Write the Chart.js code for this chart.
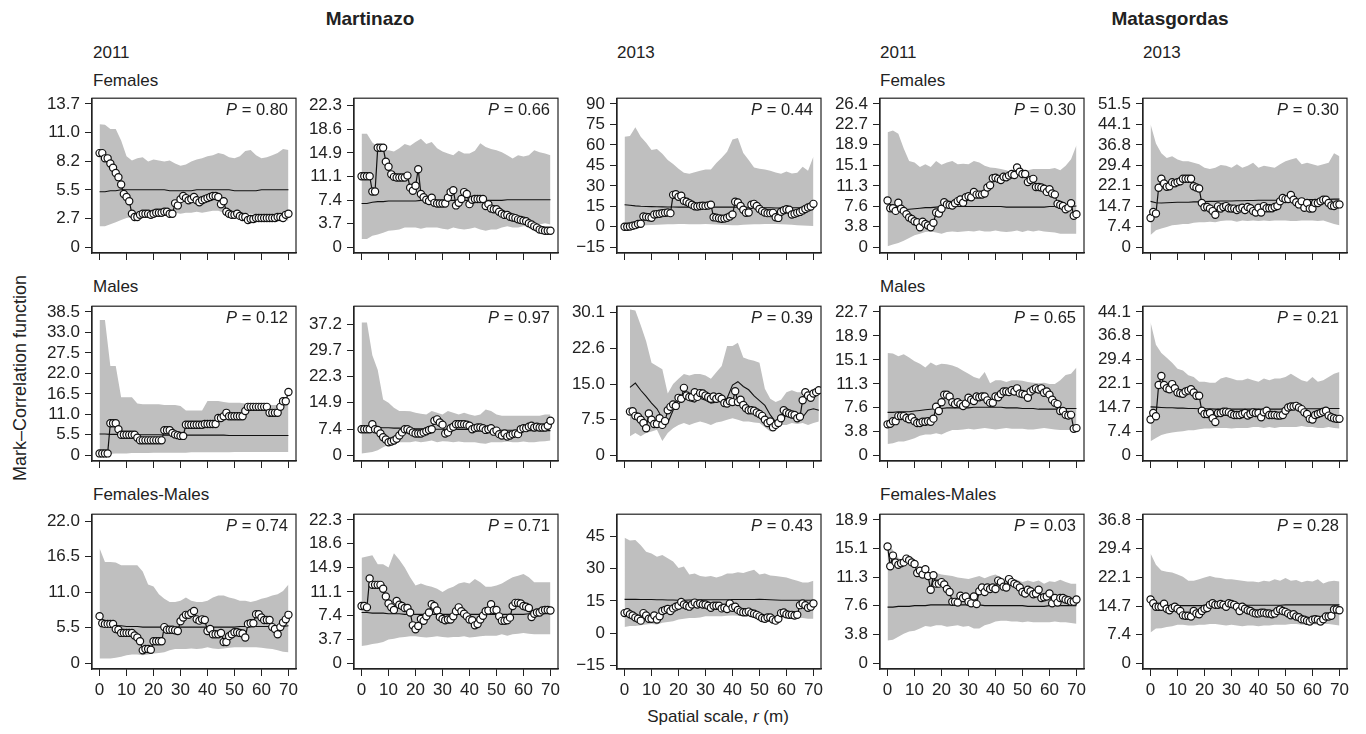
<!DOCTYPE html>
<html><head><meta charset="utf-8">
<script src="https://cdn.jsdelivr.net/npm/chart.js@4/dist/chart.umd.min.js"></script>
<style>
html,body{margin:0;padding:0;background:#fff;}
#fig{position:relative;width:1366px;height:734px;overflow:hidden;font-family:"Liberation Sans",Arial,Helvetica,sans-serif;color:#222;}
.t{position:absolute;white-space:nowrap;line-height:1;}
canvas{position:absolute;}
#warn{position:absolute;left:0;top:0;color:red;font-size:12px;}
</style></head><body>
<div id="fig">
  <div class="t" style="left:370px;top:9px;font-size:19px;font-weight:bold;transform:translateX(-50%);">Martinazo</div>
  <div class="t" style="left:1170px;top:9px;font-size:19px;font-weight:bold;transform:translateX(-50%);">Matasgordas</div>
  <div class="t" style="left:93px;top:44px;font-size:17px;">2011</div>
  <div class="t" style="left:617px;top:44px;font-size:17px;">2013</div>
  <div class="t" style="left:880px;top:44px;font-size:17px;">2011</div>
  <div class="t" style="left:1143px;top:44px;font-size:17px;">2013</div>
  <div class="t" style="left:93px;top:72px;font-size:17px;">Females</div>
  <div class="t" style="left:880px;top:72px;font-size:17px;">Females</div>
  <div class="t" style="left:93px;top:278px;font-size:17px;">Males</div>
  <div class="t" style="left:880px;top:278px;font-size:17px;">Males</div>
  <div class="t" style="left:93px;top:486px;font-size:17px;">Females-Males</div>
  <div class="t" style="left:880px;top:486px;font-size:17px;">Females-Males</div>
  <div class="t" style="left:20px;top:378px;font-size:18px;transform:translate(-50%,-50%) rotate(-90deg);">Mark–Correlation function</div>
  <div class="t" style="left:718px;top:708px;font-size:17px;transform:translateX(-50%);">Spatial scale, <i>r</i> (m)</div>
  <div id="warn"></div>
</div>
<script>
// ---------- grids ----------
const rObs = [0,1,2,3,4,5,6,7,8,9,10,11,12,13,14,15,16,17,18,19,20,21,22,23,24,25,26,27,28,29,30,31,32,33,34,35,36,37,38,39,40,41,42,43,44,45,46,47,48,49,50,51,52,53,54,55,56,57,58,59,60,61,62,63,64,65,66,67,68,69,70];
const rEnv = [0,2,4,6,8,10,12,14,16,18,20,22,24,26,28,30,32,34,36,38,40,42,44,46,48,50,52,54,56,58,60,62,64,66,68,70];
const rObsShift = [2,3,4,5,6,7,8,9,10,11,12,13,14,15,16,17,18,19,20,21,22,23,24,25,26,27,28,29,30,31,32,33,34,35,36,37,38,39,40,41,42,43,44,45,46,47,48,49,50,51,52,53,54,55,56,57,58,59,60,61,62,63,64,65,66,67,68,69,70,71,72];
const rEnvShift = [2,4,6,8,10,12,14,16,18,20,22,24,26,28,30,32,34,36,38,40,42,44,46,48,50,52,54,56,58,60,62,64,66,68,70,72];
const xTickValues = [0,10,20,30,40,50,60,70];
const xTickLabels = ['0','10','20','30','40','50','60','70'];
const pValues = ['0.80','0.66','0.44','0.30','0.30','0.12','0.97','0.39','0.65','0.21','0.74','0.71','0.43','0.03','0.28'];

// ---------- Row 1: Females ----------
const p1Obs = [9.0,9.0,8.5,8.5,8.0,7.6,7.1,6.7,6.0,5.1, 4.8,4.4,3.2,2.9,2.9,3.1,3.2,3.2,3.2,3.1, 3.2,3.3,3.3,3.3,3.4,3.4,3.2,3.2,4.2,4.0, 4.6,4.9,4.7,4.5,4.6,4.8,4.5,4.3,4.5,4.6, 4.7,4.8,4.9,4.9,4.8,4.1,4.4,3.4,3.2,3.1, 3.1,3.2,3.0,2.9,2.9,2.6,2.7,2.7,2.8,2.8, 2.8,2.8,2.8,2.8,2.8,2.8,2.9,2.9,2.8,3.1,3.2];
const p1Mean = [5.3,5.3,5.4,5.4,5.5,5.5,5.5,5.5,5.5,5.5, 5.5,5.5,5.5,5.4,5.4,5.4,5.4,5.4,5.5,5.5, 5.5,5.5,5.5,5.5,5.5,5.4,5.4,5.4,5.4,5.4, 5.5,5.5,5.5,5.5,5.5,5.5];
const p1Hi = [11.75,11.7,11.3,11.3,10.2,8.7,8.3,8.5,8.6,8.2, 8.4,8.3,8.2,8.3,8.0,7.8,7.9,8.2,8.4,8.5, 8.7,8.8,9.0,8.9,8.6,8.5,8.7,9.2,9.3,8.8, 8.5,8.6,8.8,9.0,9.4,9.3];
const p1Lo = [2.0,2.0,2.2,2.4,2.6,2.8,2.9,3.0,3.1,3.1, 3.1,3.2,3.2,3.2,3.3,3.2,3.3,3.3,3.4,3.3, 3.4,3.5,3.5,3.3,3.2,3.2,3.1,3.2,3.2,3.1, 3.2,3.1,3.0,3.0,2.8,2.5];
const p1Ticks = [0,2.74,5.48,8.22,10.96,13.7];
const p1Labels = ['0','2.7','5.5','8.2','11.0','13.7'];

const p2Obs = [11.2,11.2,11.2,11.2,8.8,8.8,15.7,15.7,15.7,13.5, 12.7,11.5,11.1,11.0,11.0,11.0,11.0,11.3,9.4,8.9, 9.7,12.3,8.4,7.9,7.5,7.3,7.8,7.0,6.9,6.9, 6.9,6.9,7.8,8.7,9.0,6.6,7.0,7.6,8.7,8.4, 6.8,7.5,7.6,7.6,7.6,7.6,6.5,6.8,6.1,6.0, 6.0,5.6,5.3,5.1,5.1,4.8,4.7,4.6,4.4,4.3, 4.2,4.1,3.8,3.6,3.3,3.1,2.8,2.7,2.6,2.6,2.6];
const p2Mean = [6.9,6.9,7.1,7.2,7.2,7.3,7.3,7.3,7.3,7.3, 7.3,7.4,7.4,7.3,7.3,7.4,7.4,7.4,7.4,7.4, 7.4,7.4,7.4,7.4,7.4,7.4,7.4,7.5,7.5,7.5, 7.5,7.5,7.5,7.5,7.5,7.5];
const p2Hi = [17.9,17.9,16.5,15.8,15.2,15.3,15.1,15.6,16.3,16.0, 16.6,17.1,16.3,16.6,15.6,15.1,14.8,14.5,15.2,14.8, 14.8,15.2,16.4,15.8,15.5,15.3,15.0,14.5,14.0,14.5, 14.3,14.5,15.3,15.0,14.8,14.5];
const p2Lo = [1.3,1.3,1.8,2.0,2.3,2.6,2.7,2.8,3.1,3.1, 3.1,2.9,3.1,3.1,3.1,2.9,2.8,3.1,2.9,2.8, 2.9,3.1,2.8,2.6,2.8,2.8,3.1,3.3,3.1,3.1, 3.3,3.3,3.6,3.6,3.8,3.6];
const p2Ticks = [0,3.72,7.44,11.16,14.88,18.6,22.32];
const p2Labels = ['0','3.7','7.4','11.1','14.9','18.6','22.3'];

const p3Obs = [0,0,0.2,0.8,1.2,2.0,2.2,7.5,7.3,7.0, 6.6,9.0,9.3,9.6,10.0,10.2,10.5,10.0,23.4,23.9, 22.0,22.8,19.0,18.4,17.3,16.1,15.0,14.9,15.2,15.4, 15.3,15.6,16.2,7.0,6.7,6.2,5.9,6.0,6.6,7.6, 9.0,18.4,17.8,15.2,12.5,10.2,10.5,16.2,16.8,15.2, 13.0,11.5,10.5,10.0,10.0,10.2,7.0,6.5,11.0,12.1, 12.8,12.5,9.0,9.5,10.2,10.9,12.0,13.0,14.2,14.9,16.8];
const p3Mean = [16.1,15.8,15.3,15.0,14.9,14.8,14.7,14.6,14.5,14.5, 14.4,14.4,14.4,14.4,14.4,14.4,14.4,14.4,14.4,14.4, 14.4,14.3,14.3,14.3,14.2,14.2,14.0,13.9,13.8,13.8, 13.8,13.9,14.0,14.1,14.3,14.5];
const p3Hi = [66.0,66.5,73.0,66.0,61.5,56.3,57.0,53.5,49.0,46.0, 42.5,39.5,38.8,40.0,41.0,42.0,42.0,46.8,50.5,55.0, 64.0,65.0,54.0,49.0,43.5,42.5,42.0,41.0,39.7,38.8, 40.5,39.0,39.5,44.0,41.0,51.5];
const p3Lo = [0.5,0.8,1.0,1.2,1.2,1.3,1.5,1.6,1.8,1.9, 2.0,2.0,1.9,1.8,1.9,2.0,1.8,1.6,1.5,1.3, 1.2,1.2,1.5,1.7,1.8,1.9,2.0,2.0,2.0,1.8, 1.7,1.5,1.2,1.0,0.8,0.6];
const p3Ticks = [-15,0,15,30,45,60,75,90];
const p3Labels = ['\u221215','0','15','30','45','60','75','90'];

const p4Obs = [8.6,7.2,7.2,6.7,8.2,7.1,6.7,6.1,5.5,5.2, 4.8,4.6,3.7,4.7,4.3,4.0,3.7,4.5,6.4,6.2, 7.1,8.3,7.9,7.8,7.7,8.1,8.5,8.8,8.2,9.2, 9.4,9.2,10.2,9.7,9.7,9.7,9.9,11.0,11.4,12.7, 12.8,12.6,12.4,13.0,12.9,13.2,13.5,13.3,14.7,13.9, 13.5,13.5,12.0,12.4,12.6,11.1,11.1,11.0,10.8,10.2, 10.7,9.9,9.7,8.0,7.8,7.6,7.0,7.3,8.1,5.8,6.1];
const p4Mean = [6.8,6.8,6.9,6.9,7.0,7.1,7.2,7.3,7.3,7.4, 7.5,7.5,7.5,7.5,7.5,7.5,7.5,7.5,7.5,7.5, 7.5,7.5,7.4,7.4,7.4,7.4,7.4,7.4,7.4,7.4, 7.5,7.5,7.5,7.5,7.5,7.6];
const p4Hi = [21.2,21.5,20.9,18.2,15.9,15.6,14.8,15.3,14.8,15.9, 15.2,15.6,15.9,15.3,15.4,15.3,15.9,15.6,15.0,14.7, 14.6,14.4,14.2,13.8,14.2,14.1,14.2,14.4,14.4,14.4, 14.4,14.6,14.2,15.0,16.2,18.8];
const p4Lo = [0.2,0.5,0.8,1.2,1.7,2.2,2.5,2.8,2.9,2.7, 2.5,2.8,2.9,2.8,2.9,3.0,2.9,3.1,2.9,2.9, 3.1,2.9,2.8,2.9,3.1,2.8,3.1,2.9,3.1,2.9, 2.8,2.7,2.5,2.5,2.5,2.5];
const p4Ticks = [0,3.8,7.6,11.3,15.1,18.9,22.7,26.4];
const p4Labels = ['0','3.8','7.6','11.3','15.1','18.9','22.7','26.4'];

const p5Obs = [10.5,12.7,12.1,21.4,24.6,22.9,21.7,21.9,23.4,23.0, 23.4,23.7,24.6,24.6,24.6,24.6,21.9,21.5,21.1,15.9, 14.4,14.5,13.9,13.0,11.7,14.7,13.9,14.5,14.8,14.0, 13.9,13.9,13.4,13.9,14.2,13.4,14.5,14.0,13.0,12.5, 14.2,12.5,14.8,14.0,14.0,14.0,14.5,14.8,16.5,17.7, 17.3,17.3,18.8,17.1,16.2,15.4,16.5,14.2,15.9,13.9, 13.9,15.9,15.9,16.5,17.1,17.1,15.9,15.0,14.8,15.4,15.4];
const p5Mean = [16.5,16.0,15.9,16.0,16.1,16.2,16.2,16.2,16.3,16.3, 16.4,16.5,16.5,16.6,16.6,16.6,16.7,16.7,16.8,16.8, 16.9,16.9,16.9,16.9,16.9,17.0,17.0,17.0,17.0,17.1, 17.1,17.1,17.2,17.2,17.3,17.3];
const p5Hi = [44.2,37.3,33.8,32.1,32.7,31.5,30.9,30.9,30.4,29.8, 28.6,28.1,28.6,29.6,29.3,28.6,29.8,28.6,29.3,30.4, 28.6,29.3,28.9,28.6,29.8,30.9,31.5,32.1,29.8,30.4, 29.8,29.3,29.8,30.4,33.8,32.7];
const p5Lo = [4.4,6.1,6.7,7.3,7.9,8.1,8.4,8.4,8.8,9.0, 9.0,9.2,9.0,9.4,9.6,9.6,9.2,9.6,9.4,9.6, 9.4,9.6,9.4,9.6,9.6,9.6,9.4,9.4,9.6,9.6, 9.6,9.4,9.6,9.0,8.4,7.9];
const p5Ticks = [0,7.4,14.7,22.1,29.4,36.8,44.1,51.5];
const p5Labels = ['0','7.4','14.7','22.1','29.4','36.8','44.1','51.5'];

// ---------- Row 2: Males ----------
const p6Obs = [0.5,0.5,0.5,0.5,8.6,8.6,8.6,7.0,5.5,5.5, 5.5,5.5,5.5,5.5,4.7,4.0,4.0,4.0,4.0,4.0, 4.0,4.0,4.0,4.0,6.7,6.7,6.7,6.0,5.6,5.4, 5.2,5.2,8.2,8.2,8.2,8.2,8.2,8.2,8.2,8.4, 8.4,8.4,8.4,8.4,10.0,10.0,10.5,11.4,10.5,10.5, 10.5,10.5,10.5,10.5,11.9,13.0,13.0,13.0,13.0,13.0, 13.0,13.0,13.0,11.4,11.4,11.4,11.4,13.0,14.5,14.5,17.0];
const p6Mean = [5.7,5.7,5.6,5.6,5.6,5.6,5.5,5.5,5.5,5.5, 5.5,5.5,5.4,5.4,5.4,5.4,5.4,5.4,5.4,5.4, 5.4,5.4,5.4,5.4,5.3,5.3,5.3,5.3,5.3,5.3, 5.3,5.3,5.3,5.3,5.3,5.3];
const p6Hi = [36.3,36.3,24.0,24.0,15.6,15.6,15.6,13.9,13.7,13.7, 13.7,13.7,13.5,13.5,13.5,13.2,12.0,12.0,12.0,12.0, 14.6,14.6,14.6,14.3,14.1,14.1,14.1,13.9,13.7,13.7, 13.7,13.5,13.5,13.5,13.7,13.7];
const p6Lo = [0.4,0.4,0.4,0.5,0.5,0.5,0.6,0.6,0.6,0.6, 0.7,0.7,0.7,0.7,0.7,0.7,0.7,0.8,0.8,0.8, 0.8,0.8,0.8,0.8,0.8,0.9,0.9,0.9,0.9,0.9, 0.9,0.9,0.9,0.9,0.9,0.9];
const p6Ticks = [0,5.5,11.0,16.5,22.0,27.5,33.0,38.5];
const p6Labels = ['0','5.5','11.0','16.5','22.0','27.5','33.0','38.5'];

const p7Obs = [7.4,7.4,7.4,7.4,8.8,7.4,7.2,6.2,5.1,4.5, 3.7,3.9,4.2,4.7,5.6,6.5,7.4,7.4,7.0,6.5, 6.2,6.2,6.2,6.5,6.8,7.2,7.4,9.8,10.2,9.3, 8.7,6.2,6.5,7.7,8.1,8.8,8.8,8.8,8.8,8.7, 8.4,7.4,7.7,7.9,7.9,7.7,7.2,7.4,7.7,6.7, 7.0,6.0,5.6,6.2,5.3,5.6,6.0,6.2,6.0,7.4, 7.7,7.7,8.1,8.4,7.9,8.1,7.9,7.9,7.9,8.4,9.8];
const p7Mean = [8.0,8.0,7.9,7.9,7.8,7.8,7.7,7.7,7.6,7.6, 7.5,7.5,7.5,7.4,7.4,7.4,7.4,7.4,7.3,7.3, 7.3,7.3,7.2,7.2,7.2,7.2,7.1,7.1,7.1,7.1, 7.1,7.0,7.0,7.0,7.0,7.0];
const p7Hi = [37.7,37.7,28.4,24.2,15.8,14.9,13.5,12.6,12.6,12.5, 12.1,11.8,11.6,12.6,12.1,11.6,12.6,12.1,11.6,12.1, 11.6,11.2,11.6,13.0,12.6,11.6,11.2,11.2,11.2,11.2, 11.2,11.2,11.2,11.2,11.6,11.6];
const p7Lo = [0.5,0.7,0.9,1.4,2.3,3.0,3.3,3.7,3.7,3.7, 4.0,3.7,3.9,4.2,3.7,4.0,3.9,3.7,3.9,3.7, 3.7,3.7,3.4,3.3,3.7,3.7,3.7,3.9,3.7,3.7, 3.9,3.7,3.7,3.9,4.0,4.2];
const p7Ticks = [0,7.4,14.9,22.3,29.7,37.2];
const p7Labels = ['0','7.4','14.9','22.3','29.7','37.2'];

const p8Obs = [9.2,9.3,8.3,8.1,7.5,6.8,5.7,8.8,7.5,6.6, 6.6,7.8,6.4,7.2,9.5,10.2,10.7,10.4,12.1,11.9, 14.2,12.6,12.3,12.3,13.3,12.3,13.1,13.0,12.6,12.3, 11.9,12.4,11.9,12.3,11.9,11.0,10.9,11.4,11.2,13.5, 11.2,11.7,10.6,9.9,9.5,9.5,9.4,9.0,8.7,8.3, 7.5,6.8,7.1,5.9,6.4,6.8,7.8,9.5,9.0,8.8, 8.6,8.5,7.8,8.1,11.6,13.3,12.6,12.1,13.0,13.3,13.7];
const p8Mean = [14.3,15.2,13.7,12.4,11.0,9.8,7.8,6.8,9.5,10.8, 12.0,11.5,11.2,12.0,11.6,11.0,11.2,11.5,12.0,14.8, 15.5,14.5,13.8,12.5,11.5,10.5,8.5,7.0,7.0,8.5, 9.0,8.8,8.0,9.5,9.8,9.5];
const p8Hi = [30.7,30.5,27.4,24.0,19.5,18.8,18.1,13.0,15.0,16.1, 17.1,16.8,17.1,17.1,16.8,16.1,17.5,18.8,23.0,23.0, 23.7,20.6,20.2,19.9,19.5,14.0,11.9,11.2,11.7,13.3, 13.7,13.3,13.3,13.0,13.0,12.6];
const p8Lo = [4.0,4.7,4.0,4.7,5.0,5.4,3.0,4.7,5.7,6.4, 6.8,6.4,6.8,7.1,6.8,6.4,6.9,7.1,7.5,7.8, 7.5,7.1,7.1,6.9,6.8,5.9,5.0,5.7,6.4,6.4, 6.8,6.6,6.8,6.4,6.8,7.1];
const p8Ticks = [0,7.5,15.0,22.6,30.1];
const p8Labels = ['0','7.5','15.0','22.6','30.1'];

const p9Obs = [4.9,5.0,5.4,5.4,6.2,6.2,6.2,5.9,5.7,6.0, 5.4,5.1,5.1,5.3,5.3,5.4,5.3,5.8,7.7,7.0, 8.4,9.6,9.6,9.3,8.4,8.1,8.4,8.1,7.8,8.2, 9.1,8.8,8.6,9.3,9.2,9.3,9.3,8.7,8.3,8.3, 9.3,9.2,9.7,10.1,10.1,10.0,10.3,10.1,10.6,9.8, 9.7,9.6,9.1,10.1,10.4,10.6,10.4,10.6,9.9,10.1, 9.6,8.8,8.3,8.1,7.0,7.0,6.4,6.3,6.4,4.2,4.3];
const p9Mean = [6.8,6.8,6.9,6.9,6.9,7.0,7.1,7.2,7.3,7.4, 7.4,7.5,7.5,7.5,7.5,7.5,7.6,7.6,7.6,7.6, 7.6,7.6,7.5,7.5,7.5,7.4,7.4,7.4,7.3,7.3, 7.3,7.3,7.3,7.4,7.4,7.4];
const p9Hi = [16.2,16.1,15.7,16.0,15.5,14.9,14.5,13.9,14.7,14.2, 14.5,14.4,14.2,13.9,13.4,12.9,12.4,12.1,13.2,11.4, 11.9,11.9,11.6,11.9,11.9,11.8,11.6,11.5,11.4,11.5, 11.3,11.3,11.9,12.7,12.9,13.9];
const p9Lo = [1.8,1.9,2.2,2.2,2.4,2.7,3.1,3.3,3.3,3.5, 3.3,3.7,4.0,4.0,4.1,4.2,4.1,4.2,4.3,4.2, 4.1,4.2,4.3,4.2,4.2,4.2,4.1,4.1,4.2,4.3, 4.2,4.1,4.0,4.0,4.0,3.7];
const p9Ticks = [0,3.8,7.6,11.3,15.1,18.9,22.7];
const p9Labels = ['0','3.8','7.6','11.3','15.1','18.9','22.7'];

const p10Obs = [11.0,13.0,12.0,21.6,24.4,21.6,20.6,20.3,21.9,20.6, 19.3,19.1,18.9,19.6,19.9,20.3,19.3,18.3,18.3,13.7, 12.7,12.7,13.0,11.4,10.2,13.0,13.0,13.4,13.4,13.2, 12.7,12.4,12.4,12.4,12.7,13.0,12.2,12.7,13.2,13.0, 13.0,11.7,13.2,13.7,12.4,12.4,12.4,12.2,12.2,12.4, 13.7,14.7,15.0,15.0,15.2,14.7,14.2,13.2,12.7,11.2, 11.0,12.4,12.7,13.0,13.4,13.7,12.2,11.7,11.4,11.2,11.2];
const p10Mean = [14.9,14.8,14.7,14.6,14.6,14.5,14.5,14.4,14.4,14.3, 14.3,14.3,14.2,14.2,14.2,14.2,14.2,14.2,14.2,14.2, 14.2,14.2,14.2,14.2,14.2,14.3,14.3,14.3,14.3,14.3, 14.3,14.3,14.3,14.4,14.4,14.4];
const p10Hi = [40.9,34.0,31.5,30.0,28.5,26.6,26.1,24.6,24.1,22.6, 22.6,22.3,22.3,23.6,24.1,23.6,23.1,23.1,23.6,23.1, 22.6,23.6,23.1,23.6,23.6,24.1,25.1,24.1,23.1,22.6, 24.1,22.6,23.1,24.1,25.1,25.6];
const p10Lo = [4.3,5.3,6.2,6.7,7.0,7.2,7.4,7.7,7.7,8.0, 8.2,8.2,8.4,8.4,8.4,8.2,8.4,8.4,8.4,8.7, 8.7,8.4,8.7,8.4,8.7,8.7,8.7,8.7,9.0,8.7, 8.7,8.4,8.4,8.7,8.4,8.2];
const p10Ticks = [0,7.4,14.7,22.1,29.4,36.8,44.1];
const p10Labels = ['0','7.4','14.7','22.1','29.4','36.8','44.1'];

// ---------- Row 3: Females-Males ----------
const p11Obs = [7.3,6.2,6.1,6.1,6.1,6.1,5.3,5.2,4.7,4.7, 4.7,4.7,4.7,4.3,4.0,3.4,2.0,2.2,2.2,2.1, 3.4,3.4,3.4,3.4,5.6,5.2,5.2,5.2,5.1,5.0, 6.5,7.1,7.5,7.5,7.8,8.1,6.8,6.6,6.8,6.7, 5.0,5.3,4.5,4.5,4.5,4.7,3.3,3.3,4.2,4.5, 4.8,4.8,4.7,4.6,4.0,6.1,6.2,6.2,7.6,7.6, 7.1,6.7,6.7,6.7,5.6,5.3,4.5,5.6,6.3,6.8,7.5];
const p11Mean = [6.0,5.9,5.9,5.8,5.8,5.7,5.7,5.7,5.6,5.6, 5.6,5.6,5.6,5.6,5.6,5.6,5.6,5.6,5.6,5.6, 5.6,5.6,5.6,5.6,5.6,5.6,5.7,5.7,5.7,5.7, 5.7,5.7,5.7,5.7,5.7,5.8];
const p11Hi = [17.8,15.7,15.7,15.6,15.2,15.2,15.2,15.2,14.2,12.2, 11.9,10.7,10.0,9.5,9.5,9.7,10.2,9.7,9.5,9.5, 9.7,10.2,10.5,10.5,10.2,10.0,9.7,9.7,9.5,9.7, 10.0,10.2,10.5,10.7,11.2,12.2];
const p11Lo = [0.75,0.75,0.75,0.85,1.0,1.25,1.35,1.35,1.25,1.35, 1.5,1.6,1.7,2.0,2.2,2.2,2.2,2.3,2.2,2.3, 2.5,2.3,2.2,2.3,2.4,2.5,2.5,2.5,2.5,2.5, 2.4,2.3,2.2,2.0,1.8,1.7];
const p11Ticks = [0,5.5,11.0,16.5,22.0];
const p11Labels = ['0','5.5','11.0','16.5','22.0'];

const p12Obs = [8.9,8.9,8.7,13.2,12.2,12.2,12.2,12.2,11.6,10.4, 9.3,8.7,8.3,9.7,9.1,8.9,8.6,8.6,7.9,5.9, 5.3,5.8,6.9,6.6,7.3,7.9,9.2,8.9,8.2,7.2, 6.9,6.7,6.8,6.8,7.3,8.1,8.7,8.1,7.7,7.3, 6.8,6.7,5.9,6.1,6.8,7.4,8.1,8.2,9.2,8.3, 8.3,7.3,6.6,6.6,6.7,7.1,8.9,9.4,9.4,9.3, 8.9,8.8,8.6,7.2,7.7,7.9,7.9,8.2,8.3,8.3,8.2];
const p12Mean = [7.9,7.9,7.8,7.8,7.8,7.7,7.7,7.7,7.6,7.6, 7.6,7.6,7.6,7.6,7.6,7.6,7.6,7.6,7.6,7.6, 7.6,7.6,7.6,7.6,7.6,7.6,7.6,7.6,7.6,7.6, 7.6,7.7,7.7,7.7,7.7,7.7];
const p12Hi = [16.4,16.6,16.8,15.4,15.4,14.9,17.1,16.1,14.9,13.4, 12.1,12.4,12.1,11.9,11.6,11.1,11.6,11.9,12.4,12.6, 12.4,13.1,12.6,11.9,11.9,12.1,12.4,12.9,13.4,13.6, 13.9,13.4,12.6,12.6,12.6,12.6];
const p12Lo = [2.7,2.8,3.0,3.1,3.3,3.7,3.8,4.0,4.1,4.2, 4.2,4.1,4.0,4.1,4.2,4.1,4.0,4.1,4.1,4.2, 4.0,4.1,4.2,4.3,4.3,4.3,4.5,4.3,4.5,4.6, 4.7,4.6,4.5,4.5,4.5,4.5];
const p12Ticks = [0,3.7,7.4,11.1,14.9,18.6,22.3];
const p12Labels = ['0','3.7','7.4','11.1','14.9','18.6','22.3'];

const p13Obs = [9.3,9.7,8.8,8.2,7.3,6.7,5.8,9.3,8.2,6.7, 6.7,8.2,6.3,7.8,10.3,10.8,11.2,10.3,11.5,12.3, 12.7,14.5,13.3,12.7,12.3,13.3,14.2,13.3,13.8,13.3, 13.3,12.7,11.8,12.7,12.7,12.7,11.5,11.8,11.2,13.8, 11.8,12.3,10.8,10.0,9.7,9.7,10.0,9.3,9.0,8.5, 7.8,7.0,6.7,7.3,7.3,6.3,5.8,6.7,9.3,9.6, 8.8,8.5,8.5,8.2,8.5,13.0,13.8,13.0,11.8,12.3,13.8];
const p13Mean = [15.7,15.7,15.7,15.6,15.6,15.6,15.5,15.5,15.4,15.4, 15.3,15.3,15.4,15.4,15.5,15.5,15.5,15.5,15.5,15.5, 15.6,15.6,15.6,15.6,15.6,15.7,15.6,15.5,15.4,15.3, 15.3,15.3,15.3,15.3,15.3,15.3];
const p13Hi = [44.3,43.0,43.3,40.8,37.8,37.0,35.5,36.3,34.8,33.3, 30.3,31.0,27.3,27.7,26.5,26.2,26.5,25.8,26.5,27.7, 27.7,28.3,28.0,28.8,29.5,27.3,27.7,26.8,26.5,26.2, 25.8,25.0,24.3,23.5,23.5,24.3];
const p13Lo = [2.8,3.3,3.3,3.7,4.0,4.3,4.0,4.8,5.2,5.5, 6.3,6.7,7.0,7.0,7.3,7.8,7.8,7.8,7.8,8.1, 8.2,8.1,7.8,7.8,7.8,7.3,7.0,7.0,7.3,7.3, 7.0,7.0,7.0,7.0,6.7,6.7];
const p13Ticks = [-15,0,15,30,45];
const p13Labels = ['\u221215','0','15','30','45'];

const p14Obs = [15.4,12.8,14.2,13.3,13.0,13.2,13.3,13.8,13.6,13.3, 13.1,11.9,12.2,11.7,12.4,11.5,9.7,11.6,10.5,10.5, 10.7,10.4,9.8,9.4,8.1,8.1,8.0,8.9,8.6,8.8, 8.1,7.9,8.8,7.8,9.5,10.0,9.4,10.0,9.8,10.0, 9.8,10.9,10.7,10.1,10.0,11.1,10.7,10.5,10.3,10.0, 9.4,9.2,9.7,9.5,9.1,9.2,9.7,8.6,8.7,8.8, 9.2,7.9,8.6,8.0,8.6,8.6,8.4,8.3,8.1,8.1,8.4];
const p14Mean = [7.4,7.4,7.5,7.5,7.5,7.6,7.6,7.6,7.7,7.7, 7.7,7.7,7.7,7.7,7.7,7.7,7.7,7.7,7.6,7.6, 7.6,7.6,7.6,7.6,7.6,7.6,7.5,7.5,7.5,7.5, 7.6,7.6,7.6,7.6,7.6,7.6];
const p14Hi = [16.0,14.9,13.9,13.4,13.0,12.7,11.9,11.7,11.8,11.9, 11.7,11.6,11.5,11.3,11.2,11.1,11.3,11.5,11.2,11.5, 11.7,11.3,11.1,11.1,11.0,10.7,10.9,10.7,10.9,10.5, 10.8,10.7,11.0,10.7,10.5,10.5];
const p14Lo = [3.0,3.1,3.5,3.9,4.2,4.3,4.6,4.9,4.8,5.0, 5.0,4.8,4.9,5.0,4.8,4.9,4.6,4.6,5.0,5.2, 5.5,5.6,5.6,5.5,5.5,5.4,5.5,5.4,5.4,5.4, 5.4,5.5,5.4,5.4,5.3,5.2];
const p14Ticks = [0,3.8,7.6,11.3,15.1,18.9];
const p14Labels = ['0','3.8','7.6','11.3','15.1','18.9'];

const p15Obs = [16.4,15.4,14.5,14.5,14.5,15.3,14.0,13.6,14.2,14.5, 14.0,13.4,12.3,12.2,12.2,12.0,13.4,12.8,12.6,13.4, 14.0,14.2,15.0,15.4,15.0,15.0,15.2,15.0,14.5,15.4, 15.2,15.0,14.5,13.4,14.5,14.0,13.6,13.4,13.0,12.8, 12.8,13.0,13.0,12.8,12.8,12.6,12.8,13.4,13.8,13.4, 13.2,12.8,12.3,12.6,12.0,11.8,11.3,11.2,10.9,10.7, 11.2,11.3,11.2,10.7,11.3,12.0,12.0,12.2,13.8,13.8,13.6];
const p15Mean = [14.8,14.8,14.8,14.8,14.8,14.8,14.8,14.8,14.8,14.8, 14.8,14.8,14.8,14.8,14.9,14.9,14.9,14.9,14.9,14.9, 14.9,14.9,14.9,14.9,14.9,15.0,15.0,15.0,15.0,15.0, 15.0,15.0,15.0,15.0,15.0,15.0];
const p15Hi = [28.2,25.3,23.8,23.5,23.3,22.8,22.2,21.2,21.2,21.6, 22.0,22.4,22.0,21.9,21.6,21.6,21.4,21.2,21.0,21.0, 20.8,21.2,21.0,21.6,21.2,21.9,21.2,21.4,20.8,21.2, 21.0,21.6,20.5,21.0,21.2,21.0];
const p15Lo = [7.9,8.9,9.0,9.3,9.5,9.9,9.9,9.7,9.7,9.9, 9.9,10.1,10.1,9.9,9.7,9.9,9.7,9.5,9.7,9.7, 9.5,9.7,9.7,9.9,9.9,9.9,10.1,10.1,9.9,9.9, 10.1,9.9,10.1,10.1,9.9,9.7];
const p15Ticks = [0,7.4,14.7,22.1,29.4,36.8];
const p15Labels = ['0','7.4','14.7','22.1','29.4','36.8'];

// y-limits of each panel (data range before R's 4% expansion)
const yLimLow  = [0,0,-15,0,0,  0,0,0,0,0,  0,0,-14,0,0];
const yLimHigh = [13.7,22.6,90,26.4,51.5,  38.5,40.7,30.2,22.7,44.1,  22.2,22.3,52.6,18.9,36.8];

// ---------- layout ----------
const colLeft = [92, 354, 617, 880, 1143];
const rowTop = [93, 301, 509];
const boxW = 204, boxH = 160;
const padL = 72, padT = 10, padR = 16, padB = 40;
const FONT = '"Liberation Sans", Arial, Helvetica, sans-serif';
const INK = '#222';

const panels = [
  [p1Obs,p1Mean,p1Hi,p1Lo,p1Ticks,p1Labels],
  [p2Obs,p2Mean,p2Hi,p2Lo,p2Ticks,p2Labels],
  [p3Obs,p3Mean,p3Hi,p3Lo,p3Ticks,p3Labels],
  [p4Obs,p4Mean,p4Hi,p4Lo,p4Ticks,p4Labels],
  [p5Obs,p5Mean,p5Hi,p5Lo,p5Ticks,p5Labels],
  [p6Obs,p6Mean,p6Hi,p6Lo,p6Ticks,p6Labels],
  [p7Obs,p7Mean,p7Hi,p7Lo,p7Ticks,p7Labels],
  [p8Obs,p8Mean,p8Hi,p8Lo,p8Ticks,p8Labels],
  [p9Obs,p9Mean,p9Hi,p9Lo,p9Ticks,p9Labels],
  [p10Obs,p10Mean,p10Hi,p10Lo,p10Ticks,p10Labels],
  [p11Obs,p11Mean,p11Hi,p11Lo,p11Ticks,p11Labels],
  [p12Obs,p12Mean,p12Hi,p12Lo,p12Ticks,p12Labels],
  [p13Obs,p13Mean,p13Hi,p13Lo,p13Ticks,p13Labels],
  [p14Obs,p14Mean,p14Hi,p14Lo,p14Ticks,p14Labels],
  [p15Obs,p15Mean,p15Hi,p15Lo,p15Ticks,p15Labels]
];

const boxPlugin = {
  id: 'boxp',
  afterDraw(chart) {
    const {ctx, chartArea: a} = chart;
    const p = chart.options.plugins.boxp.p;
    ctx.save();
    ctx.strokeStyle = INK; ctx.lineWidth = 1.2;
    ctx.strokeRect(a.left, a.top, a.right - a.left, a.bottom - a.top);
    ctx.fillStyle = INK; ctx.textBaseline = 'alphabetic'; ctx.textAlign = 'right';
    const rest = ' = ' + p;
    const x = a.right - 8, y = a.top + 17;
    ctx.font = '16.5px ' + FONT;
    ctx.fillText(rest, x, y);
    const w = ctx.measureText(rest).width;
    ctx.font = 'italic 16.5px ' + FONT;
    ctx.fillText('P', x - w, y);
    ctx.restore();
  }
};

const fig = document.getElementById('fig');
const warn = [];
function pts(xs, ys) { return ys.map((v, i) => ({x: xs[i], y: v})); }

panels.forEach((pp, i) => {
  const [obs, mean, hi, lo, yt, yl] = pp;
  const row = Math.floor(i / 5), col = i % 5;
  const shifted = (i === 7);
  const xo = shifted ? rObsShift : rObs;
  const xe = shifted ? rEnvShift : rEnv;
  if (obs.length !== xo.length) warn.push('p' + (i+1) + ' obs ' + obs.length);
  if (mean.length !== xe.length) warn.push('p' + (i+1) + ' mean ' + mean.length);
  if (hi.length !== xe.length) warn.push('p' + (i+1) + ' hi ' + hi.length);
  if (lo.length !== xe.length) warn.push('p' + (i+1) + ' lo ' + lo.length);
  const cv = document.createElement('canvas');
  cv.width = boxW + padL + padR; cv.height = boxH + padT + padB;
  cv.style.left = (colLeft[col] - padL) + 'px';
  cv.style.top = (rowTop[row] - padT) + 'px';
  cv.style.width = cv.width + 'px'; cv.style.height = cv.height + 'px';
  fig.appendChild(cv);
  const span = yLimHigh[i] - yLimLow[i];
  const gridOpt = {drawOnChartArea: false, drawTicks: true, tickLength: 7, color: INK, lineWidth: 1};
  new Chart(cv, {
    type: 'line',
    data: {
      datasets: [
        {data: pts(xo, obs), borderColor: '#111', borderWidth: 1.2, pointRadius: 3.6,
         pointBackgroundColor: '#fff', pointBorderColor: '#111', pointBorderWidth: 1.2, tension: 0, order: 0, fill: false},
        {data: pts(xe, mean), borderColor: '#111', borderWidth: 1.1, pointRadius: 0, tension: 0, order: 1, fill: false},
        {data: pts(xe, hi), borderColor: 'rgba(0,0,0,0)', borderWidth: 0, pointRadius: 0, tension: 0, order: 2,
         fill: '+1', backgroundColor: '#bfbfbf'},
        {data: pts(xe, lo), borderColor: 'rgba(0,0,0,0)', borderWidth: 0, pointRadius: 0, tension: 0, order: 3, fill: false}
      ]
    },
    options: {
      responsive: false, animation: false, devicePixelRatio: 1,
      layout: {padding: {left: 0, top: padT, right: padR, bottom: 0}},
      plugins: {legend: {display: false}, tooltip: {enabled: false},
        filler: {drawTime: 'beforeDatasetsDraw'}, boxp: {p: pValues[i]}},
      scales: {
        x: {type: 'linear', min: -2.8, max: 72.8,
          afterFit(s) { s.height = padB; },
          afterBuildTicks(s) { s.ticks = xTickValues.map(v => ({value: v})); },
          ticks: {display: row === 2, autoSkip: false, maxRotation: 0, padding: 4, color: INK,
            font: {family: FONT, size: 17}, callback: (v, k) => xTickLabels[k]},
          grid: gridOpt, border: {display: true, color: INK, width: 1.2}},
        y: {type: 'linear', min: yLimLow[i] - 0.04 * span, max: yLimHigh[i] + 0.04 * span,
          afterFit(s) { s.width = padL; },
          afterBuildTicks(s) { s.ticks = yt.map(v => ({value: v})); },
          ticks: {autoSkip: false, padding: 5, color: INK, font: {family: FONT, size: 17},
            callback: (v, k) => yl[k]},
          grid: gridOpt, border: {display: true, color: INK, width: 1.2}}
      }
    },
    plugins: [boxPlugin]
  });
});
document.getElementById('warn').textContent = warn.join(' | ');
</script>
</body></html>
